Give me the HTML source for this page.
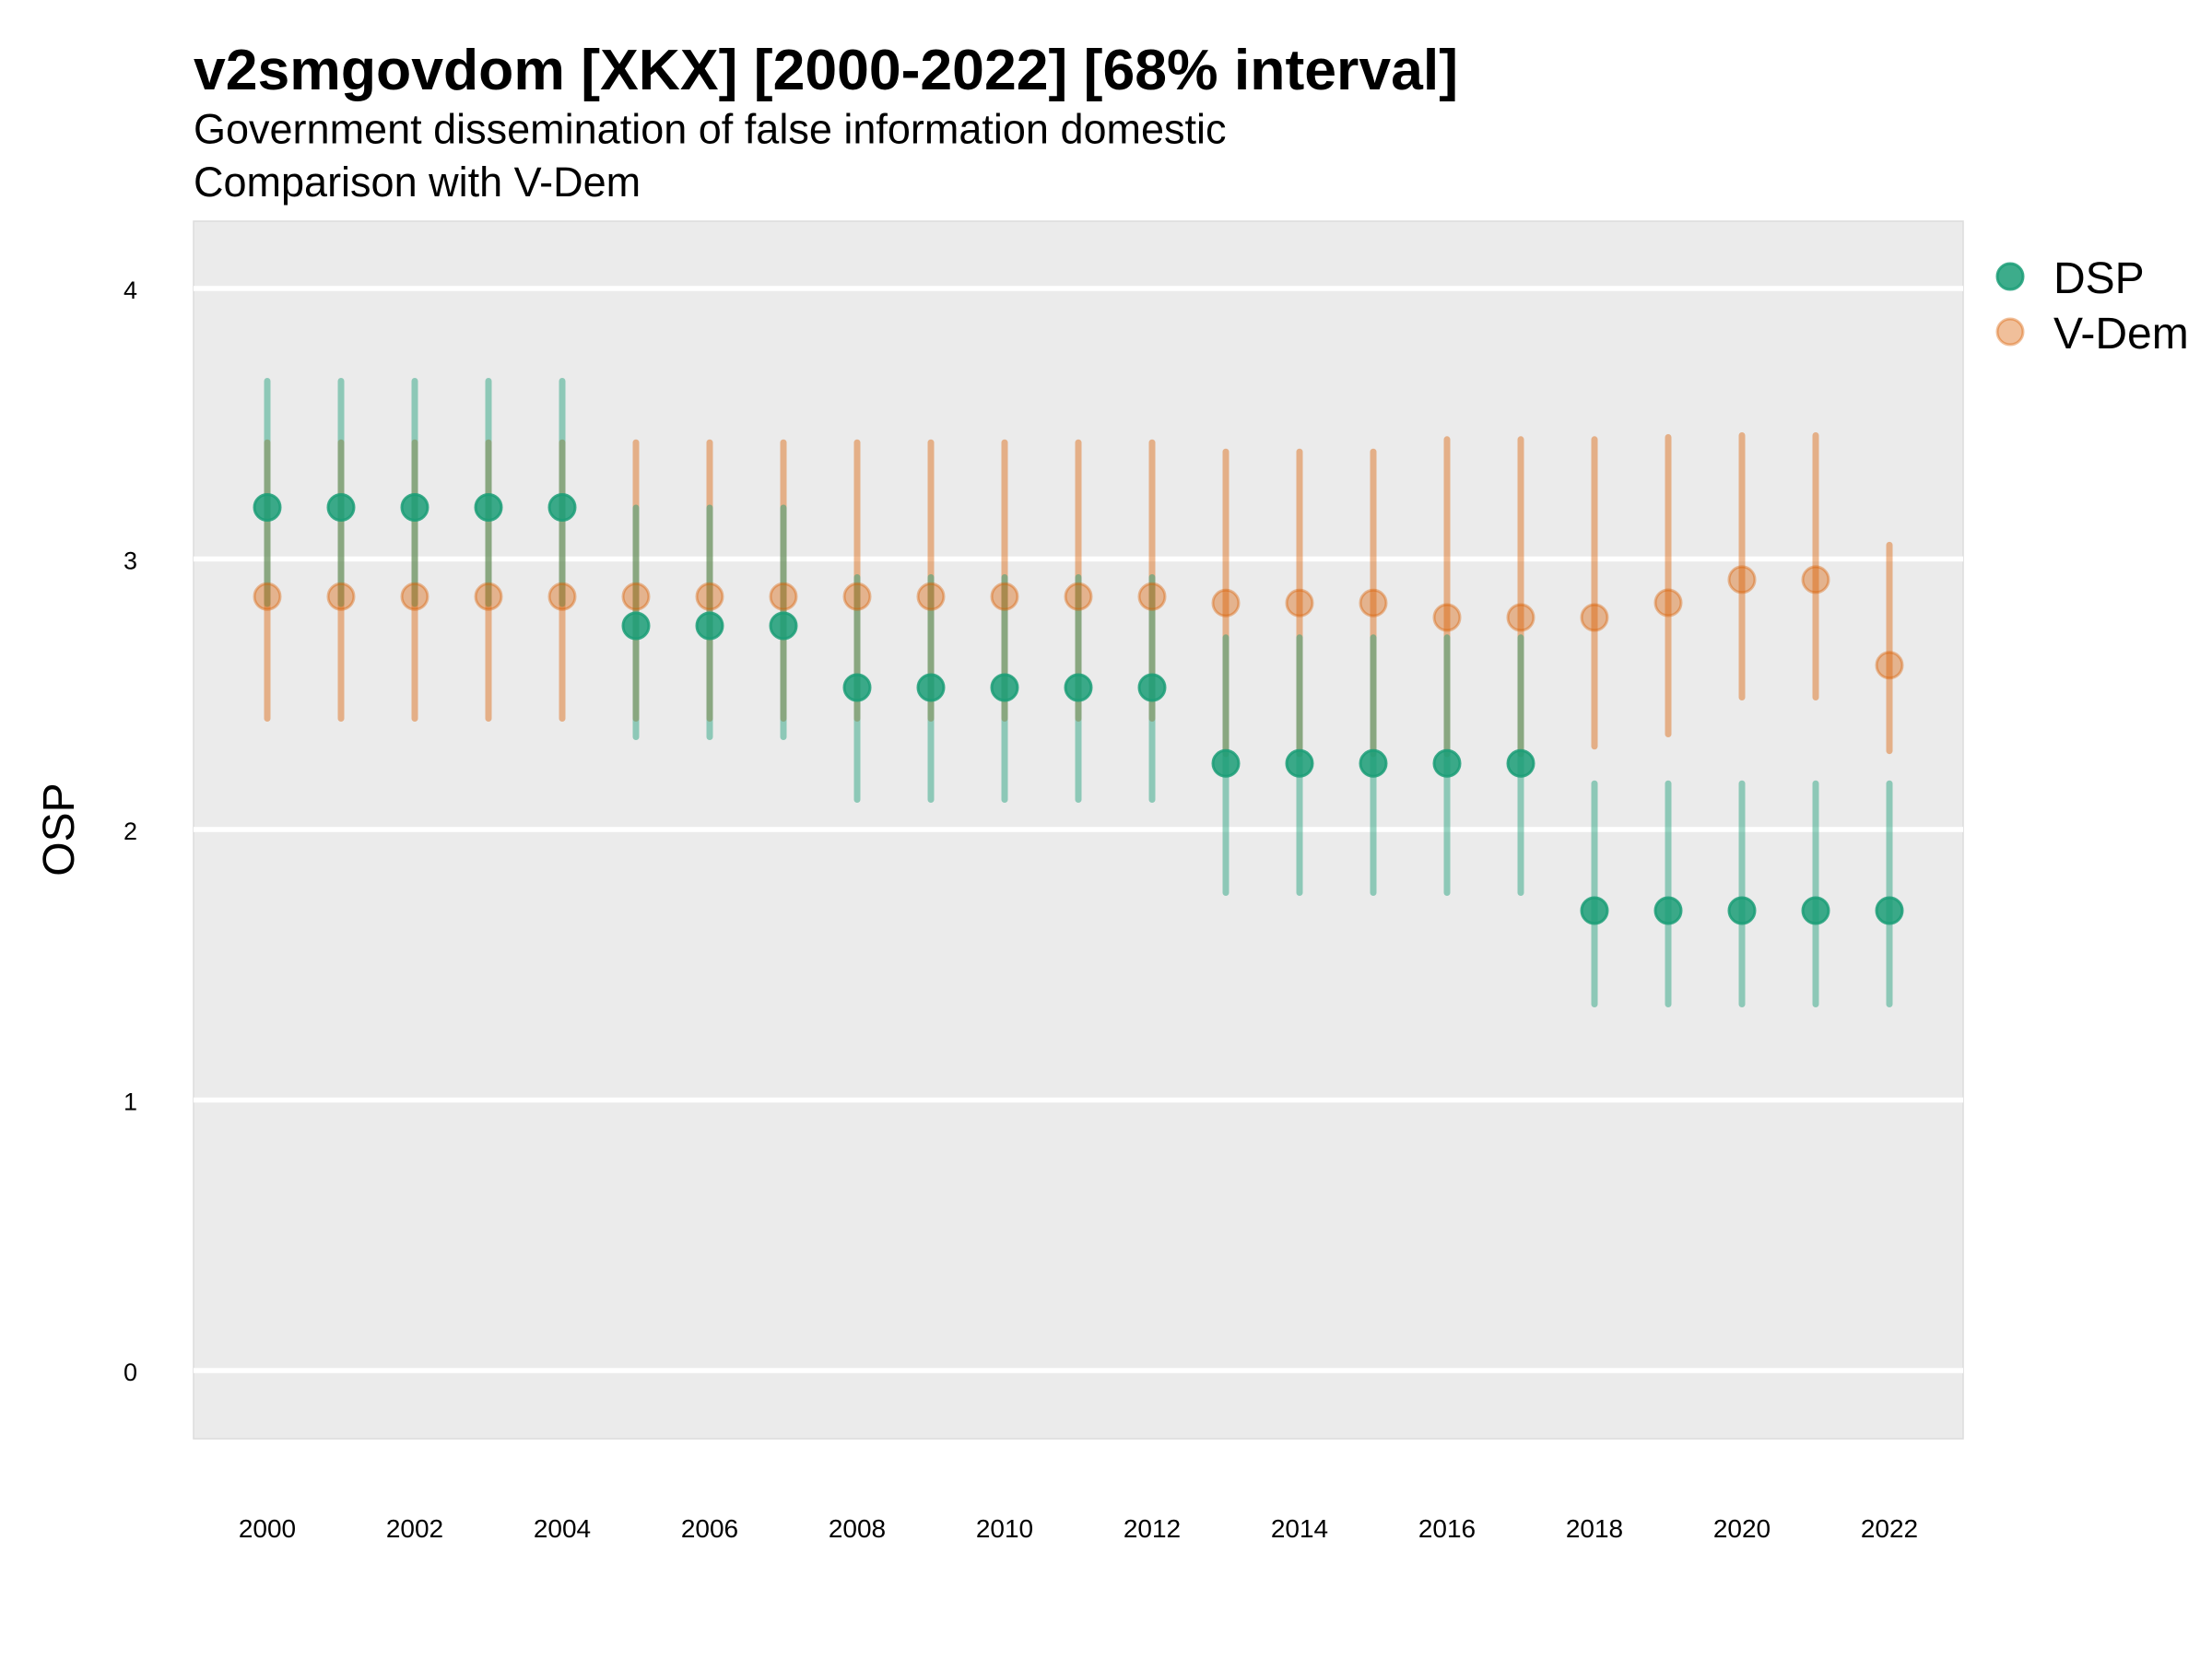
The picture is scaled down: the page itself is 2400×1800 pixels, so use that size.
<!DOCTYPE html>
<html>
<head>
<meta charset="utf-8">
<style>
html,body{margin:0;padding:0;background:#fff;}
svg{display:block;}
text{font-family:"Liberation Sans",Arial,sans-serif;fill:#000;}
</style>
</head>
<body>
<svg width="2400" height="1800" viewBox="0 0 2400 1800" xmlns="http://www.w3.org/2000/svg">
<rect x="0" y="0" width="2400" height="1800" fill="#fff"/>
<!-- titles -->
<text x="210" y="97" font-size="62.5" font-weight="bold">v2smgovdom [XKX] [2000-2022] [68% interval]</text>
<text x="210" y="155.5" font-size="45">Government dissemination of false information domestic</text>
<text x="210" y="213" font-size="45">Comparison with V-Dem</text>

<!-- panel -->
<rect x="210" y="240" width="1920" height="1321" fill="#ebebeb" stroke="#dcdcdc" stroke-width="1.5"/>
<g stroke="#ffffff" stroke-width="5.5">
<line x1="210" x2="2130" y1="313" y2="313"/>
<line x1="210" x2="2130" y1="606.5" y2="606.5"/>
<line x1="210" x2="2130" y1="900" y2="900"/>
<line x1="210" x2="2130" y1="1193.5" y2="1193.5"/>
<line x1="210" x2="2130" y1="1487" y2="1487"/>
</g>

<!-- y ticks -->
<g font-size="27" text-anchor="end">
<text x="149" y="324">4</text>
<text x="149" y="617.5">3</text>
<text x="149" y="911">2</text>
<text x="149" y="1204.5">1</text>
<text x="149" y="1498">0</text>
</g>
<text x="80" y="900" font-size="48" text-anchor="middle" transform="rotate(-90 80 900)">OSP</text>

<!-- x ticks -->
<g font-size="28" text-anchor="middle">
<text x="290" y="1668">2000</text>
<text x="450" y="1668">2002</text>
<text x="610" y="1668">2004</text>
<text x="770" y="1668">2006</text>
<text x="930" y="1668">2008</text>
<text x="1090" y="1668">2010</text>
<text x="1250" y="1668">2012</text>
<text x="1410" y="1668">2014</text>
<text x="1570" y="1668">2016</text>
<text x="1730" y="1668">2018</text>
<text x="1890" y="1668">2020</text>
<text x="2050" y="1668">2022</text>
</g>

<!-- V-Dem lines -->
<g stroke="rgb(217,95,2)" stroke-opacity="0.43" stroke-width="7" stroke-linecap="round">
<line x1="290" x2="290" y1="480.2" y2="779.5"/>
<line x1="370" x2="370" y1="480.2" y2="779.5"/>
<line x1="450" x2="450" y1="480.2" y2="779.5"/>
<line x1="530" x2="530" y1="480.2" y2="779.5"/>
<line x1="610" x2="610" y1="480.2" y2="779.5"/>
<line x1="690" x2="690" y1="480.2" y2="779.5"/>
<line x1="770" x2="770" y1="480.2" y2="779.5"/>
<line x1="850" x2="850" y1="480.2" y2="779.5"/>
<line x1="930" x2="930" y1="480.2" y2="779.5"/>
<line x1="1010" x2="1010" y1="480.2" y2="779.5"/>
<line x1="1090" x2="1090" y1="480.2" y2="779.5"/>
<line x1="1170" x2="1170" y1="480.2" y2="779.5"/>
<line x1="1250" x2="1250" y1="480.2" y2="779.5"/>
<line x1="1330" x2="1330" y1="490.2" y2="818"/>
<line x1="1410" x2="1410" y1="490.2" y2="818"/>
<line x1="1490" x2="1490" y1="490.2" y2="818"/>
<line x1="1570" x2="1570" y1="476.8" y2="818"/>
<line x1="1650" x2="1650" y1="476.8" y2="818"/>
<line x1="1730" x2="1730" y1="476.8" y2="809.8"/>
<line x1="1810" x2="1810" y1="474.5" y2="796.5"/>
<line x1="1890" x2="1890" y1="472.5" y2="756.5"/>
<line x1="1970" x2="1970" y1="472.5" y2="756.5"/>
<line x1="2050" x2="2050" y1="591.4" y2="814.7"/>
</g>

<!-- DSP lines -->
<g stroke="rgb(27,158,119)" stroke-opacity="0.45" stroke-width="7" stroke-linecap="round">
<line x1="290" x2="290" y1="413.5" y2="655"/>
<line x1="370" x2="370" y1="413.5" y2="655"/>
<line x1="450" x2="450" y1="413.5" y2="655"/>
<line x1="530" x2="530" y1="413.5" y2="655"/>
<line x1="610" x2="610" y1="413.5" y2="655"/>
<line x1="690" x2="690" y1="551" y2="799.5"/>
<line x1="770" x2="770" y1="551" y2="799.5"/>
<line x1="850" x2="850" y1="551" y2="799.5"/>
<line x1="930" x2="930" y1="626.5" y2="867.5"/>
<line x1="1010" x2="1010" y1="626.5" y2="867.5"/>
<line x1="1090" x2="1090" y1="626.5" y2="867.5"/>
<line x1="1170" x2="1170" y1="626.5" y2="867.5"/>
<line x1="1250" x2="1250" y1="626.5" y2="867.5"/>
<line x1="1330" x2="1330" y1="691.8" y2="968.5"/>
<line x1="1410" x2="1410" y1="691.8" y2="968.5"/>
<line x1="1490" x2="1490" y1="691.8" y2="968.5"/>
<line x1="1570" x2="1570" y1="691.8" y2="968.5"/>
<line x1="1650" x2="1650" y1="691.8" y2="968.5"/>
<line x1="1730" x2="1730" y1="850.2" y2="1089.5"/>
<line x1="1810" x2="1810" y1="850.2" y2="1089.5"/>
<line x1="1890" x2="1890" y1="850.2" y2="1089.5"/>
<line x1="1970" x2="1970" y1="850.2" y2="1089.5"/>
<line x1="2050" x2="2050" y1="850.2" y2="1089.5"/>
</g>

<!-- V-Dem points -->
<g fill="rgb(217,95,2)" fill-opacity="0.4" stroke="rgb(217,95,2)" stroke-opacity="0.4" stroke-width="3">
<circle cx="290" cy="647.3" r="14"/>
<circle cx="370" cy="647.3" r="14"/>
<circle cx="450" cy="647.3" r="14"/>
<circle cx="530" cy="647.3" r="14"/>
<circle cx="610" cy="647.3" r="14"/>
<circle cx="690" cy="647.3" r="14"/>
<circle cx="770" cy="647.3" r="14"/>
<circle cx="850" cy="647.3" r="14"/>
<circle cx="930" cy="647.3" r="14"/>
<circle cx="1010" cy="647.3" r="14"/>
<circle cx="1090" cy="647.3" r="14"/>
<circle cx="1170" cy="647.3" r="14"/>
<circle cx="1250" cy="647.3" r="14"/>
<circle cx="1330" cy="654.3" r="14"/>
<circle cx="1410" cy="654.3" r="14"/>
<circle cx="1490" cy="654.3" r="14"/>
<circle cx="1570" cy="670" r="14"/>
<circle cx="1650" cy="670" r="14"/>
<circle cx="1730" cy="670" r="14"/>
<circle cx="1810" cy="654" r="14"/>
<circle cx="1890" cy="628.9" r="14"/>
<circle cx="1970" cy="628.9" r="14"/>
<circle cx="2050" cy="721.8" r="14"/>
</g>

<!-- DSP points -->
<g fill="rgb(27,158,119)" fill-opacity="0.85" stroke="rgb(27,158,119)" stroke-opacity="0.85" stroke-width="3">
<circle cx="290" cy="550.5" r="14"/>
<circle cx="370" cy="550.5" r="14"/>
<circle cx="450" cy="550.5" r="14"/>
<circle cx="530" cy="550.5" r="14"/>
<circle cx="610" cy="550.5" r="14"/>
<circle cx="690" cy="679" r="14"/>
<circle cx="770" cy="679" r="14"/>
<circle cx="850" cy="679" r="14"/>
<circle cx="930" cy="746" r="14"/>
<circle cx="1010" cy="746" r="14"/>
<circle cx="1090" cy="746" r="14"/>
<circle cx="1170" cy="746" r="14"/>
<circle cx="1250" cy="746" r="14"/>
<circle cx="1330" cy="828.3" r="14"/>
<circle cx="1410" cy="828.3" r="14"/>
<circle cx="1490" cy="828.3" r="14"/>
<circle cx="1570" cy="828.3" r="14"/>
<circle cx="1650" cy="828.3" r="14"/>
<circle cx="1730" cy="988" r="14"/>
<circle cx="1810" cy="988" r="14"/>
<circle cx="1890" cy="988" r="14"/>
<circle cx="1970" cy="988" r="14"/>
<circle cx="2050" cy="988" r="14"/>
</g>

<!-- legend -->
<circle cx="2181" cy="300" r="14" fill="rgb(27,158,119)" fill-opacity="0.85" stroke="rgb(27,158,119)" stroke-opacity="0.85" stroke-width="3"/>
<circle cx="2181" cy="360" r="14" fill="rgb(217,95,2)" fill-opacity="0.4" stroke="rgb(217,95,2)" stroke-opacity="0.4" stroke-width="3"/>
<text x="2228" y="318" font-size="48">DSP</text>
<text x="2228" y="378" font-size="48">V-Dem</text>
</svg>
</body>
</html>
